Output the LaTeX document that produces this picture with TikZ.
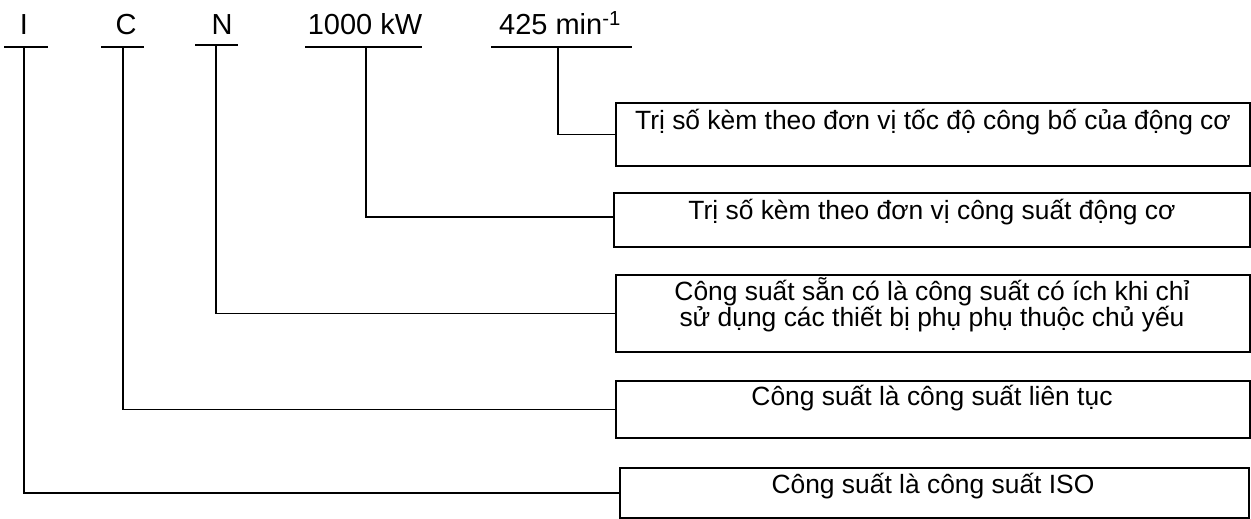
\documentclass[tikz,border=0pt]{standalone}
\usepackage{fontspec}
\setmainfont{Liberation Sans}
\begin{document}
\begin{tikzpicture}[x=1pt,y=-1pt,line width=1.5pt,
  lbl/.style={font=\fontsize{29}{34}\selectfont,anchor=base,inner sep=0pt},
  boxn/.style={draw,anchor=north west,inner sep=0pt},
  btxt/.style={font=\fontsize{26.4}{30}\selectfont,anchor=base,inner sep=0pt}]
\useasboundingbox (0,0) rectangle (1251,519);
% top labels
\node[lbl] (lI) at (24,35) {I};
\node[lbl] (lC) at (126,35) {C};
\node[lbl] (lN) at (222,35) {N};
\node[lbl] (lP) at (365,35) {1000 kW};
\node[lbl] (lR) at (560,35) {425 min\textsuperscript{-1}};
% underlines
\draw (4,47) -- (48,47);
\draw (101,47) -- (144,47);
\draw (195,45) -- (238,45);
\draw (305,47) -- (422,47);
\draw (491,47) -- (632,47);
\coordinate (uI) at (24,47);
\coordinate (uC) at (123,47);
\coordinate (uN) at (216,45);
\coordinate (uP) at (366,47);
\coordinate (uR) at (558,47);
% boxes
\node[boxn,minimum width=634pt,minimum height=63pt] (b1) at (615,102) {};
\node[boxn,minimum width=636pt,minimum height=54pt] (b2) at (613,192) {};
\node[boxn,minimum width=634pt,minimum height=77pt] (b3) at (615,274) {};
\node[boxn,minimum width=634pt,minimum height=57pt] (b4) at (615,380) {};
\node[boxn,minimum width=629pt,minimum height=50pt] (b5) at (619,467) {};
% box texts
\node[btxt] (t1) at (933,129) {Trị số kèm theo đơn vị tốc độ công bố của động cơ};
\node[btxt] (t2) at (932,219) {Trị số kèm theo đơn vị công suất động cơ};
\node[btxt] (t3a) at (932,300) {Công suất sẵn có là công suất có ích khi chỉ};
\node[btxt] (t3b) at (932,326) {sử dụng các thiết bị phụ phụ thuộc chủ yếu};
\node[btxt] (t4) at (932,405) {Công suất là công suất liên tục};
\node[btxt] (t5) at (933,493) {Công suất là công suất ISO};
% connectors
\draw (uR) |- (b1.west);
\draw (uP) |- ([yshift=3pt]b2.west);
\draw (uN) |- (b3.west);
\draw (uC) |- (b4.west);
\draw (uI) |- (b5.west);
\end{tikzpicture}
\end{document}
